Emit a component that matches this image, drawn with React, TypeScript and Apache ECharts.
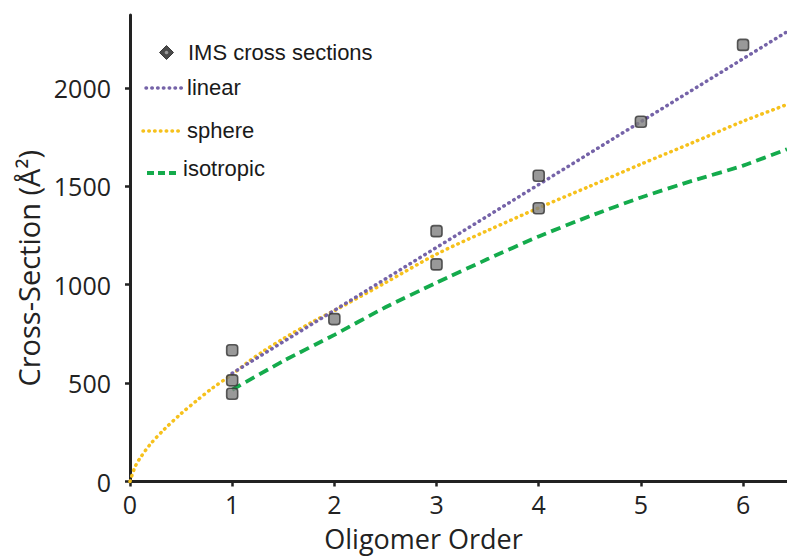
import React, { useEffect, useRef } from "react";
import * as echarts from "echarts";

const xTicks = [0, 1, 2, 3, 4, 5, 6];
const yTicks = [0, 500, 1000, 1500, 2000];

const imsX = [1, 1, 1, 2, 3, 3, 4, 4, 5, 6];
const imsY = [667, 514, 446, 825, 1272, 1103, 1553, 1388, 1828, 2218];

const linearX = [1, 6.43];
const linearY = [550, 2285];

const sphereX = [0, 0.05, 0.1, 0.2, 0.33, 0.5, 0.65, 0.8, 1, 1.15, 1.3, 1.5, 1.8, 2, 2.5, 3, 3.5, 4, 4.5, 5, 5.5, 6, 6.43];
const sphereY = [0, 75, 120, 190, 262, 345, 410, 472, 545, 605, 660, 725, 815, 868, 1010, 1155, 1275, 1390, 1500, 1612, 1720, 1830, 1915];

const isoX = [1, 1.5, 2, 2.5, 3, 3.5, 4, 4.5, 5, 5.5, 6, 6.43];
const isoY = [466, 612, 745, 885, 1010, 1130, 1245, 1348, 1443, 1527, 1605, 1688];

const legendNames = ["IMS cross sections", "linear", "sphere", "isotropic"];

const zip = (xs: number[], ys: number[]) => xs.map((x, i) => [x, ys[i]]);

const PURPLE = "#7563a8";
const YELLOW = "#f6c11c";
const GREEN = "#14ab4c";
const AXIS = "#222222";
const TICK_FONT = "'Open Sans', sans-serif";
const LEG_FONT = "'Liberation Sans', Arial, sans-serif";

export default function App() {
  const ref = useRef<HTMLDivElement>(null);
  useEffect(() => {
    document.body.style.margin = "0";
    const chart = echarts.init(ref.current!, null, { renderer: "svg" });
    const legendText = (text: string, x: number, y: number) => ({
      type: "text",
      x,
      y,
      style: { text, fill: "#1a1a1a", font: `22px ${LEG_FONT}`, verticalAlign: "middle", align: "left" },
    });
    chart.setOption({
      animation: false,
      backgroundColor: "#ffffff",
      grid: { left: 130, top: 15, right: 0, bottom: 73, containLabel: false },
      xAxis: [
        {
          type: "value",
          min: 0,
          max: 6.43,
          interval: 1,
          name: "Oligomer Order",
          nameLocation: "middle",
          nameGap: 46,
          nameTextStyle: { fontFamily: TICK_FONT, fontSize: 27, lineHeight: 22, color: AXIS, padding: [0, 70, 0, 0] },
          axisLine: { show: true, onZero: false, lineStyle: { color: AXIS, width: 3 } },
          axisTick: { show: true, inside: false, length: 5, lineStyle: { color: AXIS, width: 2.5 } },
          axisLabel: {
            fontFamily: TICK_FONT,
            fontSize: 25,
            lineHeight: 20,
            color: AXIS,
            margin: 12,
            showMaxLabel: false,
            formatter: (v: number) => (xTicks.includes(v) ? String(v) : ""),
          },
          splitLine: { show: false },
        },
        {
          type: "value",
          position: "top",
          min: 0,
          max: 6.43,
          axisLine: { show: true, lineStyle: { color: AXIS, width: 3 } },
          axisTick: { show: false },
          axisLabel: { show: false },
          splitLine: { show: false },
        },
      ],
      yAxis: {
        type: "value",
        min: 0,
        max: 2370,
        interval: 500,
        name: "Cross-Section (Å²)",
        nameLocation: "middle",
        nameGap: 82,
        nameTextStyle: { fontFamily: TICK_FONT, fontSize: 29, color: AXIS, padding: [0, 40, 0, 0] },
        axisLine: { show: true, onZero: false, lineStyle: { color: AXIS, width: 3 } },
        axisTick: { show: true, inside: false, length: 5, lineStyle: { color: AXIS, width: 2.5 } },
        axisLabel: {
          fontFamily: TICK_FONT,
          fontSize: 25,
          color: AXIS,
          margin: 19,
          showMaxLabel: false,
          formatter: (v: number) => (yTicks.includes(v) ? String(v) : ""),
        },
        splitLine: { show: false },
      },
      series: [
        {
          name: "sphere",
          type: "line",
          data: zip(sphereX, sphereY),
          showSymbol: false,
          smooth: 0.3,
          lineStyle: { color: YELLOW, width: 3.5, type: [0.5, 5.3], cap: "round" },
          z: 2,
        },
        {
          name: "linear",
          type: "line",
          data: zip(linearX, linearY),
          showSymbol: false,
          lineStyle: { color: PURPLE, width: 3.5, type: [0.5, 5.3], cap: "round" },
          z: 3,
        },
        {
          name: "isotropic",
          type: "line",
          data: zip(isoX, isoY),
          showSymbol: false,
          smooth: 0.2,
          lineStyle: { color: GREEN, width: 3.8, type: [10, 5.5] },
          z: 2,
        },
        {
          name: "IMS cross sections",
          type: "scatter",
          data: zip(imsX, imsY),
          symbol: "roundRect",
          symbolSize: 11,
          itemStyle: { color: "#7f7f7f", borderColor: "#333333", borderWidth: 1.6 },
          z: 5,
        },
      ],
      graphic: [
        {
          type: "polygon",
          shape: { points: [[166.5, 45.5], [173.5, 52.5], [166.5, 59.5], [159.5, 52.5]] },
          style: { fill: "#4a4a4a", stroke: "#3a3a3a", lineWidth: 1 },
        },
        {
          type: "circle",
          shape: { cx: 166.5, cy: 52.5, r: 1.8 },
          style: { fill: "#9a9a9a" },
        },
        legendText(legendNames[0], 188, 52),
        {
          type: "line",
          shape: { x1: 146, y1: 88, x2: 182, y2: 88 },
          style: { stroke: PURPLE, lineWidth: 3.5, lineDash: [0.5, 5.3], lineCap: "round" },
        },
        legendText(legendNames[1], 187, 87),
        {
          type: "line",
          shape: { x1: 143, y1: 131, x2: 180, y2: 131 },
          style: { stroke: YELLOW, lineWidth: 3.5, lineDash: [0.5, 5.3], lineCap: "round" },
        },
        legendText(legendNames[2], 187, 130),
        {
          type: "line",
          shape: { x1: 147, y1: 173, x2: 177, y2: 173 },
          style: { stroke: GREEN, lineWidth: 3.8, lineDash: [7, 4] },
        },
        legendText(legendNames[3], 183, 168),
      ],
    });
    return () => chart.dispose();
  }, []);
  return <div ref={ref} style={{ width: 787, height: 557 }} />;
}
